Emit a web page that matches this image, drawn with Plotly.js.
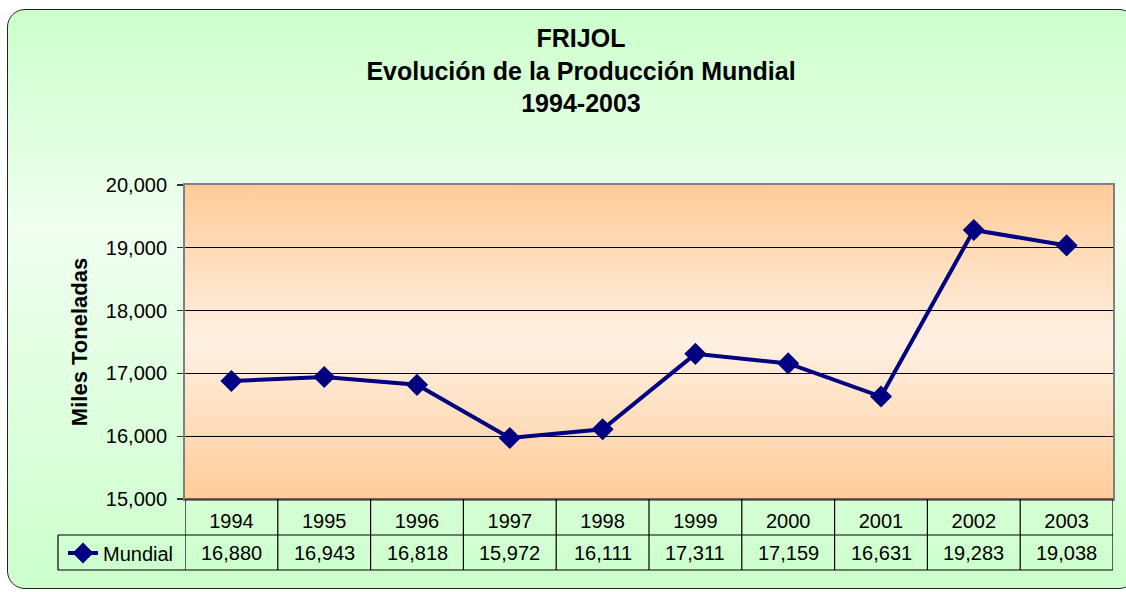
<!DOCTYPE html>
<html>
<head>
<meta charset="utf-8">
<script src="https://cdn.plot.ly/plotly-3.0.1.min.js"></script>
<style>
  html, body { margin:0; padding:0; width:1126px; height:592px; overflow:hidden; background:#ffffff; }
  #frame { position:absolute; left:7px; top:9px; width:1130px; height:580px; border:1.5px solid #222; border-radius:18px;
           background:linear-gradient(to bottom, #ccffcc 0%, #f0fff0 38%, #ccffcc 100%); box-sizing:border-box; }
  #plotbg { position:absolute; left:185px; top:185px; width:928px; height:314px;
            background:linear-gradient(to bottom, #ffcc99 0%, #fff0e2 50%, #ffcc99 100%); }
  #chart { position:absolute; left:0; top:0; width:1126px; height:592px; }
</style>
</head>
<body>
<div id="frame"></div>
<div id="plotbg"></div>
<div id="chart"></div>
<script>
const years = ['1994','1995','1996','1997','1998','1999','2000','2001','2002','2003'];
const mundial = [16880, 16943, 16818, 15972, 16111, 17311, 17159, 16631, 19283, 19038];
const seriesName = 'Mundial';
const titleLines = ['FRIJOL', 'Evolución de la Producción Mundial', '1994-2003'];
const yTitle = 'Miles Toneladas';

const W = 1126, H = 592, L = 185, R = 13, T = 185, B = 93;
const ph = H - T - B, pw = W - L - R;
const py = p => (H - B - p) / ph;   // pixel y -> paper y
const px = p => (p - L) / pw;       // pixel x -> paper x

const FONT = 'Liberation Sans, Arial, sans-serif';

const shapes = [];
const line = (x0, y0, x1, y1, xref, color, w) => shapes.push({type:'line', xref:xref, yref:'paper', x0:x0, x1:x1, y0:y0, y1:y1, line:{color:color, width:w}});
// bottom axis line / table top
line(0, 0, 1, 0, 'paper', '#000', 1.2);
// row separators
line(px(58), py(535), 1, py(535), 'paper', '#000', 1.2);
line(px(58), py(570), 1, py(570), 'paper', '#000', 1.2);
// left border of legend cell
line(px(58), py(535), px(58), py(570), 'paper', '#000', 1.2);
// column boundaries
for (let i = 0; i <= years.length; i++) {
  line(i - 0.5, 0, i - 0.5, py(570), 'x', '#000', 1.2);
}

const annotations = mundial.map((v, i) => ({
  x: i, xref:'x', y: py(553), yref:'paper', yanchor:'middle', xanchor:'center',
  text: v.toLocaleString('en-US'), showarrow:false, font:{family:FONT, size:20, color:'#000'}
}));

const trace = {
  x: years, y: mundial, name: seriesName, type:'scatter', mode:'lines+markers',
  line:{color:'#000080', width:4},
  marker:{symbol:'diamond', size:17, color:'#000080'},
  cliponaxis:false
};

const layout = {
  width: W, height: H,
  margin:{l:L, r:R, t:T, b:B, autoexpand:false},
  paper_bgcolor:'rgba(0,0,0,0)', plot_bgcolor:'rgba(0,0,0,0)',
  font:{family:FONT, color:'#000'},
  title:{text: titleLines.join('<br>'), font:{family:FONT, size:25, color:'#000', weight:'bold'},
         xref:'container', x: 581/W, xanchor:'center', yref:'container', y: 1 - 47/H, yanchor:'top'},
  xaxis:{type:'category', range:[-0.5, years.length - 0.5], showgrid:false, zeroline:false,
         showline:true, mirror:true, linecolor:'#808080', linewidth:2, ticks:'',
         tickfont:{family:FONT, size:20, color:'#000'}, ticklabelstandoff:3, fixedrange:true},
  yaxis:{range:[15000, 20000], dtick:1000, tick0:15000, tickformat:',d', showgrid:true, gridcolor:'#000', gridwidth:1,
         zeroline:false, showline:true, mirror:true, linecolor:'#808080', linewidth:2,
         ticks:'outside', ticklen:6, tickcolor:'#333', tickwidth:1.2,
         tickfont:{family:FONT, size:20, color:'#000'}, ticklabelstandoff:6,
         title:{text: yTitle, font:{family:FONT, size:22, color:'#000', weight:'bold'}, standoff:12}, fixedrange:true},
  showlegend:true,
  legend:{x: px(63), xanchor:'left', y: py(553), yanchor:'middle', bgcolor:'rgba(0,0,0,0)', borderwidth:0,
          font:{family:FONT, size:20, color:'#000'}},
  shapes: shapes,
  annotations: annotations
};

Plotly.newPlot('chart', [trace], layout, {displayModeBar:false, staticPlot:true});
</script>
</body>
</html>
